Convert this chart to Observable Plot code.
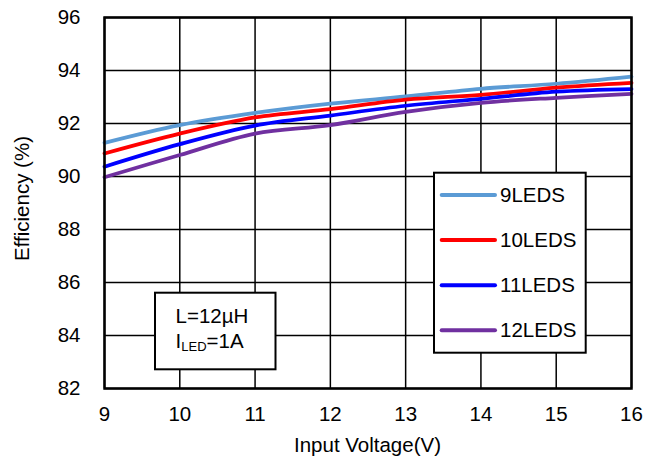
<!DOCTYPE html>
<html>
<head>
<meta charset="utf-8">
<script src="https://cdn.jsdelivr.net/npm/d3@7"></script>
<script src="https://cdn.jsdelivr.net/npm/@observablehq/plot@0.6"></script>
<style>
  html, body { margin: 0; padding: 0; background: #fff; }
  svg { font-family: "Liberation Sans", Arial, sans-serif; }
</style>
</head>
<body>
<div id="chart"></div>
<script>
// ---- data ----
const voltages = [9, 10, 11, 12, 13, 14, 15, 16];
const seriesNames = ["9LEDS", "10LEDS", "11LEDS", "12LEDS"];
const seriesColors = ["#5b9bd5", "#ff0000", "#0000ff", "#7030a0"];
const eff9 = [91.27, 91.94, 92.40, 92.75, 93.02, 93.31, 93.50, 93.77];
const eff10 = [90.87, 91.62, 92.23, 92.54, 92.90, 93.08, 93.35, 93.53];
const eff11 = [90.37, 91.22, 91.92, 92.30, 92.67, 92.93, 93.20, 93.30];
const eff12 = [89.97, 90.81, 91.62, 91.94, 92.44, 92.78, 92.97, 93.12];
const xTicks = [9, 10, 11, 12, 13, 14, 15, 16];
const yTicks = [82, 84, 86, 88, 90, 92, 94, 96];
const xTitle = "Input Voltage(V)";
const yTitle = "Efficiency (%)";
const noteLine1 = "L=12µH";
const noteMain = "I", noteSub = "LED", noteRest = "=1A";

const seriesValues = [eff9, eff10, eff11, eff12];
const rows = seriesNames.flatMap((s, i) =>
  voltages.map((v, j) => ({ series: s, v, eff: seriesValues[i][j] })));

const FS = 20.5;

const plot = Plot.plot({
  width: 661,
  height: 462,
  marginLeft: 104,
  marginRight: 30,
  marginTop: 17,
  marginBottom: 74,
  style: { fontSize: FS + "px", fontFamily: "'Liberation Sans', Arial, sans-serif", background: "#fff", color: "#000" },
  x: { domain: [9, 16] },
  y: { domain: [82, 96] },
  color: { domain: seriesNames, range: seriesColors },
  marks: [
    Plot.gridX(xTicks, { stroke: "#000", strokeOpacity: 1, strokeWidth: 1.5 }),
    Plot.gridY(yTicks, { stroke: "#000", strokeOpacity: 1, strokeWidth: 1.5 }),
    Plot.axisX({ ticks: xTicks, tickFormat: d => String(d), tickSize: 0, tickPadding: 18, label: null, fill: "#000" }),
    Plot.axisY({ ticks: yTicks, tickFormat: d => String(d), tickSize: 0, tickPadding: 24, label: null, fill: "#000" }),
    Plot.line(rows, { x: "v", y: "eff", z: "series", stroke: "series", strokeWidth: 3.75, curve: "catmull-rom" }),
    Plot.frame({ stroke: "#000", strokeWidth: 2.5 })
  ]
});

document.getElementById("chart").appendChild(plot);

// ---- titles, legend and note ----
const svg = d3.select(plot);
const font = "'Liberation Sans', Arial, sans-serif";

svg.append("text")
  .attr("x", 367.5).attr("y", 451.7)
  .attr("text-anchor", "middle")
  .attr("font-size", FS).attr("font-family", font).attr("fill", "#000")
  .text(xTitle);

svg.append("text")
  .attr("transform", "translate(29.3,198.5) rotate(-90)")
  .attr("text-anchor", "middle")
  .attr("font-size", FS).attr("font-family", font).attr("fill", "#000")
  .text(yTitle);

// legend
const lg = svg.append("g");
lg.append("rect")
  .attr("x", 434).attr("y", 172.7).attr("width", 151.7).attr("height", 180)
  .attr("fill", "#fff").attr("stroke", "#000").attr("stroke-width", 2);
seriesNames.forEach((name, i) => {
  const y = 195 + i * 45.1;
  lg.append("line")
    .attr("x1", 441.7).attr("x2", 495).attr("y1", y).attr("y2", y)
    .attr("stroke", seriesColors[i]).attr("stroke-width", 4).attr("stroke-linecap", "round");
  lg.append("text")
    .attr("x", 500).attr("y", y).attr("dy", "0.35em")
    .attr("text-anchor", "start")
    .attr("font-size", FS).attr("font-family", font).attr("fill", "#000")
    .text(name);
});

// note box
const nb = svg.append("g");
nb.append("rect")
  .attr("x", 155).attr("y", 292.7).attr("width", 120.5).attr("height", 76.6)
  .attr("fill", "#fff").attr("stroke", "#000").attr("stroke-width", 2);
nb.append("text")
  .attr("x", 175.6).attr("y", 323.3)
  .attr("text-anchor", "start")
  .attr("font-size", FS).attr("font-family", font).attr("fill", "#000")
  .text(noteLine1);
const t2 = nb.append("text")
  .attr("x", 175.6).attr("y", 348.3)
  .attr("text-anchor", "start")
  .attr("font-size", FS).attr("font-family", font).attr("fill", "#000");
t2.append("tspan").text(noteMain);
t2.append("tspan").attr("font-size", 13).attr("dy", 2.4).text(noteSub);
t2.append("tspan").attr("dy", -2.4).text(noteRest);
</script>
</body>
</html>
